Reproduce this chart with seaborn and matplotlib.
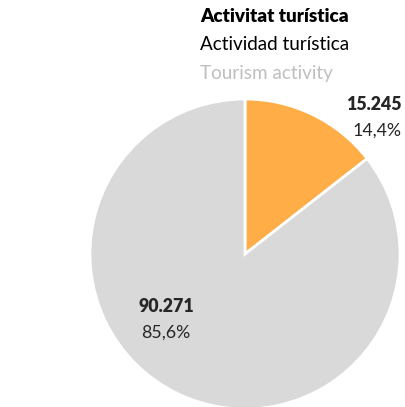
import numpy as np
import matplotlib
matplotlib.use('Agg')
import matplotlib.pyplot as plt
import seaborn as sns

# data
categories = ['Activitat turística', 'Resta']
values = [15245, 90271]
value_labels = ['15.245', '90.271']
pct_labels = ['14,4%', '85,6%']
colors = ['#FFAD47', '#D9D9D9']
title_lines = ['Activitat turística', 'Actividad turística', 'Tourism activity']

sns.set_theme(style='white')
plt.rcParams['font.family'] = ['Lato', 'DejaVu Sans']

W, H = 406, 407
fs = 12.8
fs_title = 13.6
fig = plt.figure(figsize=(W / 100, H / 100), dpi=100)
cx, cy, r = 245, 254, 155
ax = fig.add_axes([(cx - r) / W, (H - cy - r) / H, 2 * r / W, 2 * r / H])
ax.pie(values, colors=colors, startangle=90, counterclock=False,
       wedgeprops=dict(edgecolor='white', linewidth=2), radius=1)
ax.set_xlim(-1, 1)
ax.set_ylim(-1, 1)
ax.set_aspect('equal')
ax.axis('off')

# title block
fig.text(200 / W, 1 - 17 / H, title_lines[0], fontsize=fs_title, fontweight='heavy',
         color='black', ha='left', va='center')
fig.text(200 / W, 1 - 45 / H, title_lines[1], fontsize=fs_title,
         color='black', ha='left', va='center')
fig.text(200 / W, 1 - 73 / H, title_lines[2], fontsize=fs_title,
         color='#BFBFBF', ha='left', va='center')

# slice labels
fig.text(402 / W, 1 - 104 / H, value_labels[0], fontsize=fs, fontweight='heavy',
         ha='right', va='center')
fig.text(402 / W, 1 - 131 / H, pct_labels[0], fontsize=fs,
         ha='right', va='center')
fig.text(166 / W, 1 - 306 / H, value_labels[1], fontsize=fs, fontweight='heavy',
         ha='center', va='center')
fig.text(166 / W, 1 - 333 / H, pct_labels[1], fontsize=fs,
         ha='center', va='center')

fig.savefig('out.png', dpi=100, facecolor='white')
